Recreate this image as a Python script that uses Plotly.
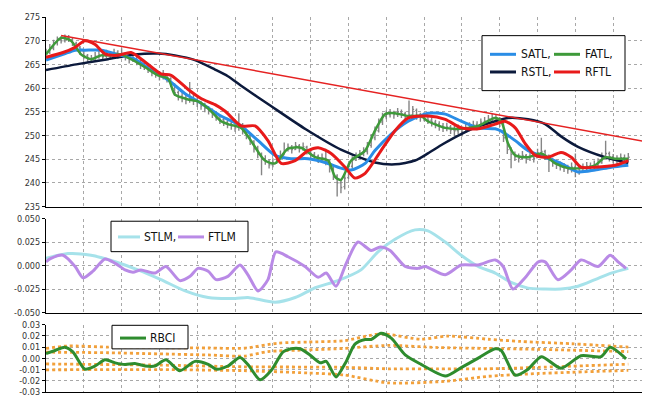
import plotly.graph_objects as go

# ---------------- data ----------------
bar_x = list(range(155))
bar_close = [267.5,268.5,269.5,270.2,270.0,270.8,270.3,269.5,268.5,267.8,266.8,266.0,266.3,266.8,267.0,266.6,267.3,266.8,267.4,266.9,
             267.2,266.5,266.0,266.3,265.5,264.8,264.5,264.0,263.3,263.0,262.4,262.8,262.0,261.0,259.0,258.2,258.0,257.5,257.8,257.2,
             257.0,256.2,255.8,255.3,254.6,254.0,253.2,252.8,252.3,252.0,251.6,252.3,251.0,250.0,248.8,247.2,246.0,245.0,244.6,243.8,
             244.2,244.8,245.8,246.8,247.5,247.0,247.8,247.2,247.6,246.8,246.0,245.5,245.0,245.3,244.5,243.0,241.5,240.0,239.0,241.0,
             243.5,244.8,245.5,246.0,246.5,247.8,249.5,251.0,252.8,254.0,254.5,254.8,254.4,255.0,254.6,254.0,254.3,255.5,254.2,253.8,
             254.0,253.2,252.8,252.4,252.0,251.6,251.8,251.2,251.0,251.5,250.8,251.6,251.9,252.2,252.0,252.8,253.0,253.5,253.8,253.4,
             253.0,249.5,247.0,246.0,245.5,245.2,245.8,245.0,245.5,245.2,246.3,246.6,245.8,244.8,244.3,243.8,243.5,243.2,242.8,243.3,
             243.0,242.6,243.2,243.5,243.3,243.8,244.2,245.5,246.2,245.5,245.0,244.8,245.3,245.0,245.4]
bar_open = [266.8,267.6,268.4,269.6,270.3,270.0,270.7,270.2,269.4,268.6,267.7,266.9,266.0,266.4,266.7,267.0,266.7,267.2,266.9,267.5,
            266.8,267.1,266.6,266.0,266.2,265.4,264.9,264.6,263.9,263.4,263.0,262.3,262.7,262.0,260.8,259.1,258.3,258.0,257.4,257.9,
            257.3,257.0,256.3,255.8,255.4,254.6,254.0,253.3,252.8,252.4,252.0,251.7,252.2,251.0,250.0,248.8,247.3,246.0,245.1,244.5,
            243.8,244.1,244.9,245.8,246.9,247.5,247.0,247.8,247.2,247.5,246.8,246.0,245.6,245.0,245.2,244.5,243.0,241.4,240.0,239.2,
            241.1,243.5,244.8,245.4,246.0,246.6,247.9,249.5,251.0,252.8,254.0,254.4,254.8,254.4,255.0,254.6,254.0,254.4,255.3,254.2,
            253.8,254.0,253.2,252.8,252.4,252.0,251.6,251.8,251.2,251.0,251.4,250.8,251.5,251.9,252.3,252.0,252.8,253.0,253.4,253.8,
            253.4,252.8,249.3,247.0,246.0,245.6,245.2,245.8,245.0,245.5,245.3,246.3,246.6,245.8,244.8,244.3,243.8,243.5,243.2,242.8,
            243.3,243.0,242.6,243.2,243.5,243.3,243.8,244.2,245.5,246.2,245.5,245.0,244.8,245.3,245.0]
bar_high = [268.3,269.3,270.2,270.9,271.0,271.3,271.2,270.6,269.8,268.9,268.0,267.2,267.0,267.6,267.8,267.5,268.1,267.8,268.3,268.0,
            268.4,267.6,267.1,267.4,266.6,265.9,265.7,265.0,264.4,264.1,263.6,263.8,263.1,262.3,261.0,259.5,259.0,258.6,261.3,258.8,
            258.0,257.3,256.9,256.2,255.7,255.0,254.3,253.8,253.4,253.0,252.8,254.7,252.6,251.4,250.3,249.0,247.8,246.4,245.8,245.0,
            245.2,245.8,246.8,248.5,248.3,248.0,248.6,248.2,248.5,247.8,247.0,246.5,246.0,246.2,247.2,244.9,243.4,241.8,240.6,241.8,
            244.2,245.6,246.4,246.9,247.5,248.6,250.3,251.9,253.6,254.8,255.3,255.6,255.2,255.8,255.5,255.0,257.4,256.2,255.7,254.8,
            254.9,254.3,253.8,253.3,253.0,252.6,252.7,252.2,252.0,252.3,251.9,252.4,252.8,253.1,253.0,253.6,253.9,254.3,254.6,254.3,
            253.9,253.0,249.6,247.5,246.6,246.2,246.7,246.1,246.4,246.2,247.2,249.5,247.0,246.0,245.3,244.8,244.5,244.2,243.8,244.3,
            246.2,243.6,244.1,244.4,244.3,244.7,245.2,246.4,248.9,246.6,246.1,245.8,246.2,246.0,246.3]
bar_low = [266.2,267.2,268.0,269.0,269.4,269.6,269.7,268.9,267.8,267.0,266.1,265.4,265.5,265.9,266.2,265.9,266.3,266.0,266.4,266.2,
           266.3,265.8,265.2,265.5,264.8,264.0,263.8,263.2,262.5,262.2,261.6,261.8,261.2,260.2,258.3,257.4,257.0,256.6,256.9,256.4,
           256.0,255.4,254.9,254.4,253.7,253.1,252.4,252.0,251.5,251.2,250.8,251.0,250.2,249.2,248.0,246.4,245.2,241.6,243.8,243.0,
           243.3,244.0,245.0,245.9,246.6,246.2,246.9,246.4,246.7,246.0,245.2,244.7,244.2,244.4,243.7,242.2,240.6,237.1,237.8,238.6,
           240.8,243.0,244.6,245.1,245.6,246.0,247.4,249.0,250.6,252.2,253.4,253.8,253.5,253.9,253.7,253.1,253.3,254.0,253.3,252.9,
           253.0,252.4,251.9,251.5,251.0,250.7,250.9,250.3,249.9,250.3,249.8,250.5,250.9,251.3,251.1,251.9,252.1,252.6,252.9,252.5,
           251.8,248.6,246.1,243.1,244.6,244.3,244.9,244.1,244.6,244.3,245.3,245.6,244.8,242.3,243.4,242.9,242.6,242.3,241.9,242.2,
           241.2,241.7,242.3,242.6,242.4,242.9,243.3,244.0,245.3,244.5,244.1,243.9,244.4,244.1,244.5]

satl_x = [0,4.5,7.7,10.3,14.6,19,23.5,27.8,32.3,36.8,41,46.3,48.1,51.6,56.1,60.6,64.8,69.3,73.8,78,80.7,84.4,87,91.3,95.8,101,
          105.6,109.8,114.3,118.8,120.4,124.1,127.5,132,136.2,140.7,145.2,149.5,154]
satl_y = [265.9,267.1,268,268,268,267.1,266.1,263.8,261.7,258.8,256.8,254.1,253.4,252,248.9,245.8,245.1,245.1,244.3,243.1,242.7,
          244.1,246.8,250.3,253,254.7,254.5,253,251.6,251.4,250.9,248.9,246.8,245.4,244.1,242.3,242.7,243.3,243.7]

fatl_x = [0,4,6.6,9.3,11.9,14.6,17.2,19.8,22.5,26.2,29.6,32.3,34.1,37.6,40.2,42.9,46.3,48.1,51.6,54.2,57.9,60.6,64,67.5,71.2,
          74.6,76.5,78,80.7,84.4,87,89.7,92.3,95.8,99.2,101,105.6,109.8,114.3,118.8,120.4,122.2,124.1,127.5,131,134.7,138.1,141.5,
          145.2,147.9,150.5,154]
fatl_y = [267.1,270.6,270,267.1,266.1,266.9,266.9,267.1,266.1,264.4,262.7,262,258.6,257.6,257.2,255.7,253,252.4,251.6,248.9,
          244.7,244.1,247.2,247.4,245.4,244.7,241.2,240.6,244.7,246.8,251,254.5,254.7,254.1,254.1,253,251.6,251.4,252,253.7,253,
          248.3,245.8,245.4,246.2,244.1,243.1,243.1,243.7,245.4,245.1,245.1]

rstl_x = [0,8,16.4,23.5,29.6,34.1,39.4,44.7,48.1,51.6,59.5,68.7,78,87,92.3,97.6,101,105,109.8,114,118.8,122.2,127.5,132,136.2,
          140.7,147.9,154]
rstl_y = [263.8,265.0,266.1,267.1,267.3,266.9,265.9,263.9,262.5,260.5,256.2,251.3,247.0,244.3,243.9,244.7,246.2,248.2,250.3,
          251.8,253.0,253.7,253.4,252.4,249.8,247.6,245.4,244.2]

rftl_x = [0,4.5,7.7,10.3,13,15.6,19,22.5,26.2,30.4,33.1,37.6,41,44.7,47.4,51.6,55.3,58.7,62.2,65.9,69.3,72,75.4,79.1,81.7,84.4,
          88.6,92.3,95.8,101,105.6,109.8,114.3,118.8,121.4,124.1,126.7,129.4,132.8,136.2,138.9,141.5,145.2,150.5,154]
rftl_y = [266.5,267.5,268.6,270.0,269.2,267.2,266.9,267.5,265.5,263,262.7,259.7,257.8,256.5,255.1,252,252,248.9,244.1,244.7,
          246.8,247.4,246.2,243.3,241,242,246.8,251,253.7,254.1,253.4,251.6,251.4,252.4,253,251.6,248.3,245.8,245.4,246.4,245.4,
          243.3,243.3,243.7,244.7]

trend_x = [4, 160]
trend_y = [271.1, 248.5]

stlm_x = [0,5.8,11.9,18.3,24.3,30.4,36.8,42.9,50,53.4,60.6,65.9,71.2,77.2,83.3,87.8,92.3,97.6,101,105.6,109.8,114.3,118.8,123,
          127.5,132,136.2,140.7,145.2,149.5,154]
stlm_y = [0.0076,0.0128,0.011,0.004,-0.0046,-0.015,-0.027,-0.034,-0.035,-0.034,-0.039,-0.034,-0.0236,-0.016,-0.0046,0.0146,
          0.028,0.038,0.037,0.025,0.011,-0.001,-0.008,-0.018,-0.024,-0.025,-0.025,-0.022,-0.015,-0.008,-0.003]

ftlm_x = [0,1.3,4.5,7.7,9.8,12.4,15.6,18.3,20.9,23,25.1,28.8,31.7,35.4,38.1,40.2,42.9,45,48.1,51.3,53.4,56.1,58.7,60.8,64,68.5,
          72,74.1,76.7,79.4,82.5,86,88.4,91,95,98.4,100.3,105.6,109.8,114.3,118.8,120.9,123.5,126.7,130.2,132,135.4,138.9,141.5,146,
          149.2,151.3,153.4]
ftlm_y = [0.004,0.0076,0.011,-0.001,-0.013,-0.006,0.007,0.0024,-0.0046,-0.007,-0.0046,-0.008,-0.001,-0.016,-0.0115,-0.003,
          -0.006,-0.015,-0.0115,0.0006,-0.0098,-0.027,-0.015,0.0146,0.0094,-0.001,-0.0125,-0.008,-0.022,0.0024,0.025,0.016,0.0198,
          0.016,-0.001,-0.003,-0.001,-0.0098,0.0006,0.0006,0.006,-0.001,-0.025,-0.013,0.004,0.004,-0.015,-0.0046,0.006,-0.001,0.011,
          0.004,-0.003]

rbci_x = [0,2.4,5,7.1,10.3,13,15.6,18.3,20.9,23.5,26.2,28.8,31.7,35.4,39.4,42.9,45,48.1,51.3,53.4,56.6,59.5,62.7,64.8,67.2,69.8,
          72.5,74.1,76.7,79.4,81.7,84.4,86,88.6,91.3,95,99.2,105.6,109.8,114.3,118.8,120.4,124.1,127.5,131,136.2,141.5,146.8,149.2,
          153.4]
rbci_y = [0.0043,0.007,0.0098,0.0057,-0.0096,-0.0068,-0.0013,-0.004,-0.0054,-0.0046,-0.0068,-0.0068,-0.0013,-0.011,-0.0027,
          -0.0054,-0.0096,-0.0068,0.0007,-0.0054,-0.019,-0.011,0.0057,0.0085,0.0085,0.003,-0.004,-0.0027,-0.0165,-0.0027,0.0127,
          0.0168,0.0168,0.0223,0.018,0.003,-0.0054,-0.0157,-0.0082,0.0002,0.0085,0.007,-0.015,-0.0096,0.0015,-0.0088,0.0023,0.0015,
          0.0098,-0.0004]

band1_x = [0,5.8,16.4,29.6,42.9,52.4,61.4,69.3,78.8,88.6,99.2,106.3,116.9,125.7,138.9,154]
band1_y = [0.0088,0.011,0.010,0.0095,0.0092,0.009,0.0135,0.0145,0.0157,0.0218,0.017,0.0198,0.017,0.015,0.013,0.010]
band2_x = [0,16.4,29.6,42.9,52.4,58.7,69.3,78.8,90.5,103.7,116.9,130.2,154]
band2_y = [0.0055,0.005,0.004,0.003,0.002,0.006,0.0075,0.0088,0.0115,0.0096,0.0088,0.008,0.006]
band3_x = [0,29.6,52.4,78.8,90.5,103.7,116.9,130.2,154]
band3_y = [-0.005,-0.006,-0.0075,-0.008,-0.0093,-0.0093,-0.0093,-0.008,-0.0052]
band4_x = [0,29.6,52.4,69.3,78.8,90.5,105.6,116.9,130.2,154]
band4_y = [-0.0102,-0.010,-0.011,-0.013,-0.0148,-0.0218,-0.0204,-0.016,-0.0135,-0.0107]

price_ticks = [235, 240, 245, 250, 255, 260, 265, 270, 275]
mom_ticks = [-0.05, -0.025, 0.0, 0.025, 0.05]
mom_labels = ["-0.050", "-0.025", "0.000", "0.025", "0.050"]
rbci_ticks = [-0.03, -0.02, -0.01, 0.0, 0.01, 0.02, 0.03]
rbci_labels = ["-0.03", "-0.02", "-0.01", "0.00", "0.01", "0.02", "0.03"]

# ---------------- styling ----------------
C_SATL = "#2a8de6"
C_FATL = "#3e9a3a"
C_RSTL = "#0c1a3c"
C_RFTL = "#e81a1a"
C_STLM = "#a6e2ea"
C_FTLM = "#b98ae6"
C_RBCI = "#2e8c2e"
C_BAND = "#f2a03a"
FONT = "DejaVu Sans Condensed, Liberation Sans Narrow, Roboto Condensed, sans-serif"

W, H = 650, 397
ML, MR, MT, MB = 38, 7, 4, 7
PW, PH = W - ML - MR, H - MT - MB


def fx(px):
    return (px - ML) / PW


def fy(py):
    return 1 - (py - MT) / PH


fig = go.Figure()

fig.add_trace(go.Ohlc(x=bar_x, open=bar_open, high=bar_high, low=bar_low, close=bar_close,
                      increasing_line_color="#858585", decreasing_line_color="#858585",
                      line_width=1.4, tickwidth=0.35, xaxis="x", yaxis="y", showlegend=False))

def line(x, y, color, width, xa, ya, dash="solid", shape="spline"):
    fig.add_trace(go.Scatter(x=x, y=y, mode="lines", xaxis=xa, yaxis=ya, showlegend=False,
                             line=dict(color=color, width=width, dash=dash, shape=shape, smoothing=0.7)))

line(rstl_x, rstl_y, C_RSTL, 2.5, "x", "y")
line(satl_x, satl_y, C_SATL, 3, "x", "y")
line(fatl_x, fatl_y, C_FATL, 2.5, "x", "y")
line(rftl_x, rftl_y, C_RFTL, 3, "x", "y")
line(trend_x, trend_y, "#e52222", 1.5, "x", "y", shape="linear")

line(stlm_x, stlm_y, C_STLM, 3, "x2", "y2")
line(ftlm_x, ftlm_y, C_FTLM, 3, "x2", "y2")

for bx, by in [(band1_x, band1_y), (band2_x, band2_y), (band3_x, band3_y), (band4_x, band4_y)]:
    line(bx, by, C_BAND, 2.8, "x3", "y3", dash="dot")
line(rbci_x, rbci_y, C_RBCI, 3, "x3", "y3")

grid = dict(showgrid=True, gridcolor="#a8a8a8", griddash="dot", gridwidth=1)
xcommon = dict(range=[0, 160], tick0=0, dtick=10, showticklabels=False, zeroline=False,
               showline=True, linecolor="#000000", linewidth=1.2, ticks="", domain=[0, 1],
               rangeslider=dict(visible=False), **grid)
ycommon = dict(zeroline=False, showline=True, linecolor="#000000", linewidth=1.2,
               ticks="outside", ticklen=3, tickcolor="#000000",
               tickfont=dict(family=FONT, size=9, color="#333333"), **grid)

fig.update_layout(
    width=W, height=H, margin=dict(l=ML, r=MR, t=MT, b=MB),
    paper_bgcolor="white", plot_bgcolor="white", showlegend=False,
    xaxis=dict(anchor="y", **xcommon),
    xaxis2=dict(anchor="y2", matches="x", **xcommon),
    xaxis3=dict(anchor="y3", matches="x", **xcommon),
    yaxis=dict(domain=[0.5, 1.0], range=[235, 275], tickvals=price_ticks,
               ticktext=[str(t) for t in price_ticks], **ycommon),
    yaxis2=dict(domain=[fy(305), fy(209.3)], range=[-0.05, 0.05], tickvals=mom_ticks,
                ticktext=mom_labels, **ycommon),
    yaxis3=dict(domain=[fy(386), fy(317.3)], range=[-0.03, 0.03], tickvals=rbci_ticks,
                ticktext=rbci_labels, **ycommon),
)

shapes = []
annots = []


def box(x0, y0, x1, y1):
    shapes.append(dict(type="rect", xref="paper", yref="paper", x0=fx(x0), x1=fx(x1), y0=fy(y1), y1=fy(y0),
                       line=dict(color="#000000", width=1), fillcolor="white", layer="above"))


def entry(sx0, sx1, sy, color, text, tx, width=3, dash="solid"):
    shapes.append(dict(type="line", xref="paper", yref="paper", x0=fx(sx0), x1=fx(sx1), y0=fy(sy), y1=fy(sy),
                       line=dict(color=color, width=width, dash=dash), layer="above"))
    annots.append(dict(xref="paper", yref="paper", x=fx(tx), y=fy(sy), text=text, showarrow=False,
                       xanchor="left", yanchor="middle", xshift=-2,
                       font=dict(family=FONT, size=12, color="#111111")))


box(474, 23, 617, 79)
entry(482, 508, 42, C_SATL, "SATL,", 513)
entry(546, 572, 42, C_FATL, "FATL,", 577)
entry(482, 508, 60, C_RSTL, "RSTL,", 513)
entry(546, 572, 60, C_RFTL, "RFTL", 577)

box(103, 212, 240, 243)
entry(110, 132, 228, C_STLM, "STLM,", 136)
entry(170, 196, 228, C_FTLM, "FTLM", 200)

box(104, 318, 180, 342)
entry(112, 138, 331, C_RBCI, "RBCI", 142)

fig.update_layout(shapes=shapes, annotations=annots)

fig.write_html("out.html")
